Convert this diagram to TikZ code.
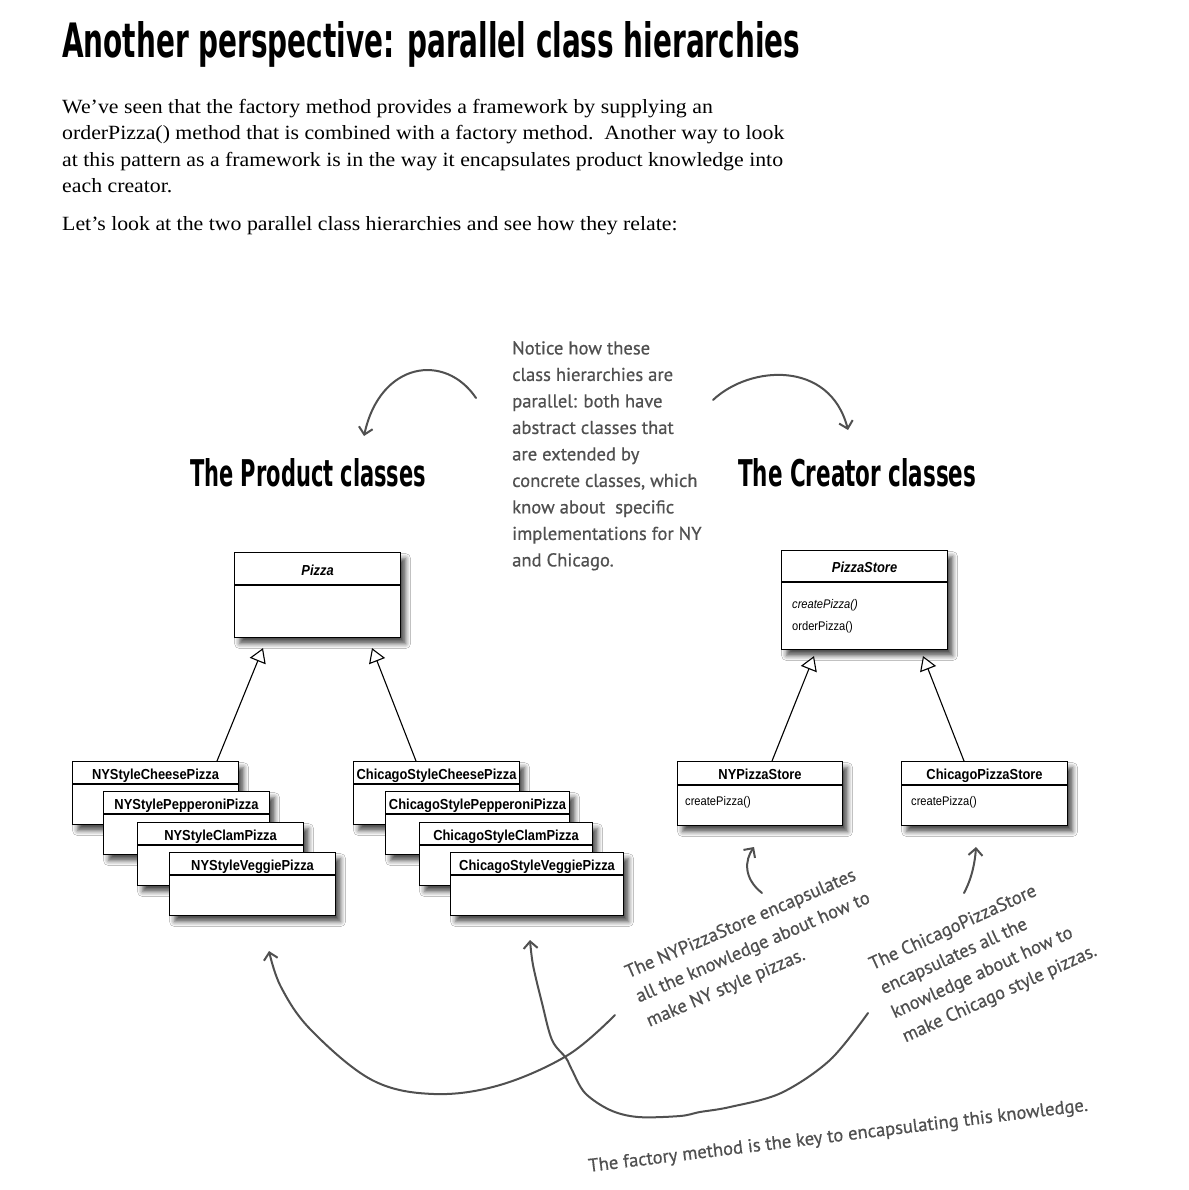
\documentclass[tikz,border=0pt]{standalone}
\usepackage{graphicx}
\usepackage{fontspec}
\setmainfont{Liberation Serif}[FakeStretch=1.08]
\newfontfamily\headfont{DejaVu Sans Condensed}
\newfontfamily\umlfont{Liberation Sans}[FakeStretch=0.89]
\newfontfamily\handfont{PT Sans}[FakeBold=0.6]
\usetikzlibrary{arrows.meta,calc,shadows.blur}
\definecolor{ink}{HTML}{505050}

% one UML class box: name, x, y, width, height, header height, title
\newcommand\umlclass[7]{%
  \node[umlbox, minimum width=#4pt, minimum height=#5pt] (#1) at (#2,#3) {};
  \draw[umlrule] ($(#1.north west)+(0,#6)$) -- ($(#1.north east)+(0,#6)$);
  \node[umltitle] at ($(#1.north)+(0,#6/2+6.5)$) {#7};
}

\begin{document}
\begin{tikzpicture}[x=1pt, y=-1pt,
  umlbox/.style={draw=black, line width=1.1pt, fill=white, anchor=north west,
    inner sep=0pt, blur shadow={shadow xshift=5pt, shadow yshift=-6pt,
    shadow blur radius=5pt, shadow opacity=70}},
  umlrule/.style={draw=black, line width=1.1pt},
  umltitle/.style={font=\umlfont\bfseries\fontsize{14.5}{16}\selectfont,
    inner sep=0pt, anchor=base},
  umlop/.style={font=\umlfont\fontsize{12.5}{14}\selectfont, inner sep=0pt,
    anchor=base west},
  gen/.style={draw=black, line width=1.1pt,
    -{Triangle[open, length=14pt, width=17pt, fill=white]}},
  hand/.style={draw=ink, line width=2pt, line cap=round, line join=round,
    -{Straight Barb[length=7pt, width=14pt]}},
  handtext/.style={font=\handfont\fontsize{18.6}{26.5}\selectfont, text=ink,
    inner sep=0pt, align=left},
  bodytext/.style={font=\fontsize{20.2}{26}\selectfont, inner sep=0pt,
    anchor=base west},
  heading/.style={inner sep=0pt, anchor=base west}
]
\fill[white] (0,0) rectangle (1188,1190);
\path[use as bounding box] (0,0) rectangle (1188,1190);

% ---- page heading and introduction ----
\node[heading] (title) at (62,58)
  {\resizebox{738pt}{36pt}{\headfont\bfseries Another perspective: parallel class hierarchies}};
\node[bodytext] (p1) at (62,114) {We’ve seen that the factory method provides a framework by supplying an};
\node[bodytext] (p2) at (62,140) {orderPizza() method that is combined with a factory method.\ \ Another way to look};
\node[bodytext] (p3) at (62,167) {at this pattern as a framework is in the way it encapsulates product knowledge into};
\node[bodytext] (p4) at (62,193) {each creator.};
\node[bodytext] (p5) at (62,230) {Let’s look at the two parallel class hierarchies and see how they relate:};

% ---- section headings ----
\node[heading] (prodhead) at (190,486)
  {\resizebox{236pt}{28pt}{\headfont\bfseries The Product classes}};
\node[heading] (creahead) at (738,486)
  {\resizebox{238pt}{28pt}{\headfont\bfseries The Creator classes}};

% ---- centre note ----
\node[handtext, anchor=north west] (note) at (512,341)
  {Notice how these\\class hierarchies are\\parallel: both have\\abstract classes that\\are extended by\\concrete classes, which\\know about\ \ specific\\implementations for NY\\and Chicago.};

% ---- product hierarchy ----
\umlclass{pizza}{234}{552}{166}{85}{33}{\itshape Pizza}
\umlclass{ny1}{72}{761}{166}{63}{23}{NYStyleCheesePizza}
\umlclass{ny2}{103}{791}{166}{63}{23}{NYStylePepperoniPizza}
\umlclass{ny3}{137}{822}{166}{63}{23}{NYStyleClamPizza}
\umlclass{ny4}{169}{852}{166}{63}{23}{NYStyleVeggiePizza}
\umlclass{ch1}{353}{761}{166}{63}{23}{ChicagoStyleCheesePizza}
\umlclass{ch2}{385}{791}{184}{63}{23}{ChicagoStylePepperoniPizza}
\umlclass{ch3}{419}{822}{173}{63}{23}{ChicagoStyleClamPizza}
\umlclass{ch4}{450}{852}{173}{63}{23}{ChicagoStyleVeggiePizza}

\draw[gen] ($(ny1.north west)+(145,0)$) -- ($(pizza.south west)+(29,10)$);
\draw[gen] ($(ch1.north west)+(63,0)$) -- ($(pizza.south west)+(138,10)$);

% ---- creator hierarchy ----
\umlclass{store}{781}{550}{166}{99}{32}{\itshape PizzaStore}
\node[umlop] (storeop1) at ($(store.north west)+(11,58)$) {\itshape createPizza()};
\node[umlop] (storeop2) at ($(store.north west)+(11,80)$) {orderPizza()};
\umlclass{nys}{677}{761}{165}{64}{24}{NYPizzaStore}
\node[umlop] (nysop) at ($(nys.north west)+(8,44)$) {createPizza()};
\umlclass{chs}{901}{761}{166}{64}{24}{ChicagoPizzaStore}
\node[umlop] (chsop) at ($(chs.north west)+(10,44)$) {createPizza()};

\draw[gen] ($(nys.north west)+(95,0)$) -- ($(store.south west)+(33,6)$);
\draw[gen] ($(chs.north west)+(63,0)$) -- ($(store.south west)+(142,6)$);

% ---- hand-drawn pointers ----
\coordinate (aS) at (476,398);  \coordinate (aE) at (364,436);
\coordinate (bS) at (713,400);  \coordinate (bE) at (848,430);
\coordinate (cS) at (762,893);  \coordinate (cE) at (754,847);
\coordinate (dS) at (964,893);  \coordinate (dE) at (976,847);
\coordinate (eS) at (615,1015); \coordinate (eE) at (269,951);
\coordinate (fS) at (868,1013); \coordinate (fE) at (530,940);

\draw[hand] (aS) .. controls (445,352) and (380,362) .. (aE);
\draw[hand] (bS) .. controls (750,365) and (830,360) .. (bE);
\draw[hand] (cS) .. controls (743,878) and (745,860) .. (cE);
\draw[hand] (dS) .. controls (972,878) and (975,862) .. (dE);
\draw[hand] plot[smooth, tension=0.6] coordinates
  {(eS) (568,1055) (500,1085) (434,1094) (372,1080) (311,1030) (281,987) (eE)};
\draw[hand] plot[smooth, tension=0.55] coordinates
  {(fS) (830,1060) (781,1093) (730,1107) (700,1112) (680,1116) (638,1117)
   (610,1110) (585,1093) (572,1070) (566,1058) (552,1040) (542,1003) (533,965) (fE)};

% ---- hand-written remarks ----
\node[handtext, anchor=north west, rotate=23.4] (nynote) at (623,966)
  {The NYPizzaStore encapsulates\\all the knowledge about how to\\make NY style pizzas.};
\node[handtext, anchor=north west, rotate=24.5] (chnote) at (867,958)
  {The ChicagoPizzaStore\\encapsulates all the\\knowledge about how to\\make Chicago style pizzas.};
\node[handtext, anchor=base west, rotate=7] (keynote) at (589,1172)
  {The factory method is the key to encapsulating this knowledge.};
\end{tikzpicture}
\end{document}
